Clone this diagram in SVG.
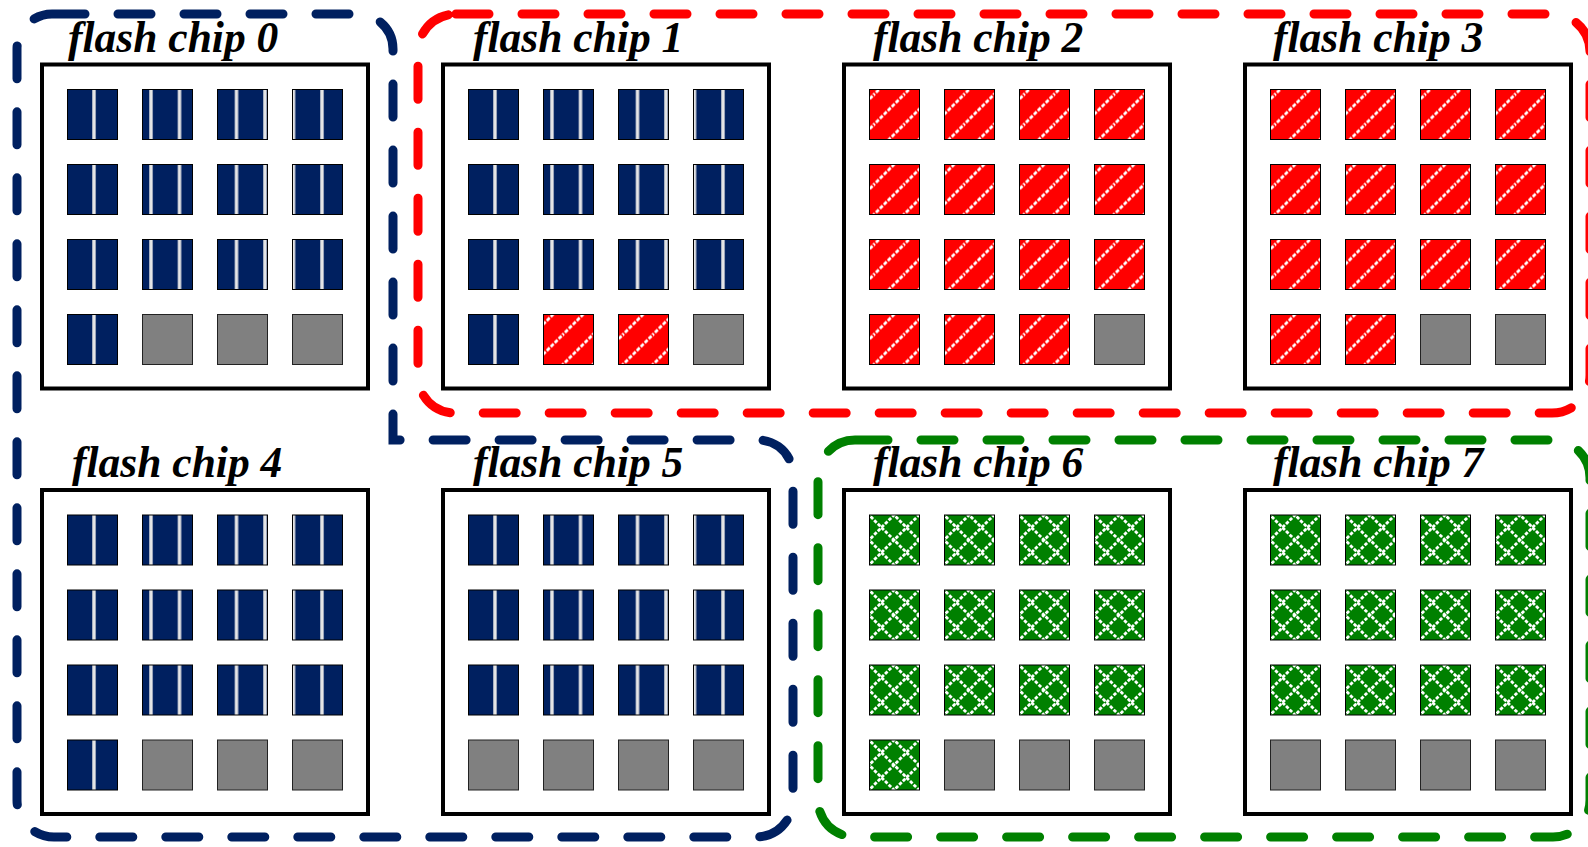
<svg xmlns="http://www.w3.org/2000/svg" width="1588" height="847" viewBox="0 0 1588 847">
<style>
.box{fill:#fff;stroke:#000;stroke-width:4}
.lbl{font-family:"Liberation Serif","Times New Roman",serif;font-weight:bold;font-style:italic;font-size:43.5px;fill:#000}
.n{fill:url(#pn);stroke:#000;stroke-width:1}
.r{fill:url(#pr);stroke:#000;stroke-width:1}
.g{fill:url(#pg);stroke:#000;stroke-width:1}
.e{fill:#808080;stroke:#222;stroke-width:1}
.grp{fill:none;stroke-width:9;stroke-linecap:round;stroke-dasharray:33 33}
</style>
<defs>
<pattern id="pn" patternUnits="userSpaceOnUse" x="0" y="0" width="28.5" height="10">
<rect width="28.5" height="10" fill="#002060"/>
<rect x="21.8" width="3.4" height="10" fill="#e6e6e6"/>
</pattern>
<pattern id="pr" patternUnits="userSpaceOnUse" x="0" y="0" width="30" height="30">
<rect width="30" height="30" fill="#ff0000"/>
<path d="M-2,32 L32,-2 M-5,5 L5,-5 M25,35 L35,25" stroke="#fff" stroke-width="2.8" stroke-dasharray="4 1.6"/>
</pattern>
<pattern id="pg" patternUnits="userSpaceOnUse" x="0" y="0" width="25" height="25">
<rect width="25" height="25" fill="#008000"/>
<path d="M-2,27 L27,-2 M-2,-2 L27,27 M-5,5 L5,-5 M20,30 L30,20 M-5,20 L5,30 M20,-5 L30,5" stroke="#fff" stroke-width="2.8" stroke-dasharray="3.5 1.6"/>
</pattern>
</defs>

<g id="chip0" transform="translate(42,64.5)">
<rect class="box" width="326" height="324"/>
<text class="lbl" x="26" y="-12.5">flash chip 0</text>
<rect class="n" x="25.5" y="25" width="50" height="50"/><rect class="n" x="100.5" y="25" width="50" height="50"/><rect class="n" x="175.5" y="25" width="50" height="50"/><rect class="n" x="250.5" y="25" width="50" height="50"/>
<rect class="n" x="25.5" y="100" width="50" height="50"/><rect class="n" x="100.5" y="100" width="50" height="50"/><rect class="n" x="175.5" y="100" width="50" height="50"/><rect class="n" x="250.5" y="100" width="50" height="50"/>
<rect class="n" x="25.5" y="175" width="50" height="50"/><rect class="n" x="100.5" y="175" width="50" height="50"/><rect class="n" x="175.5" y="175" width="50" height="50"/><rect class="n" x="250.5" y="175" width="50" height="50"/>
<rect class="n" x="25.5" y="250" width="50" height="50"/><rect class="e" x="100.5" y="250" width="50" height="50"/><rect class="e" x="175.5" y="250" width="50" height="50"/><rect class="e" x="250.5" y="250" width="50" height="50"/>
</g>

<g id="chip1" transform="translate(443,64.5)">
<rect class="box" width="326" height="324"/>
<text class="lbl" x="30" y="-12.5">flash chip 1</text>
<rect class="n" x="25.5" y="25" width="50" height="50"/><rect class="n" x="100.5" y="25" width="50" height="50"/><rect class="n" x="175.5" y="25" width="50" height="50"/><rect class="n" x="250.5" y="25" width="50" height="50"/>
<rect class="n" x="25.5" y="100" width="50" height="50"/><rect class="n" x="100.5" y="100" width="50" height="50"/><rect class="n" x="175.5" y="100" width="50" height="50"/><rect class="n" x="250.5" y="100" width="50" height="50"/>
<rect class="n" x="25.5" y="175" width="50" height="50"/><rect class="n" x="100.5" y="175" width="50" height="50"/><rect class="n" x="175.5" y="175" width="50" height="50"/><rect class="n" x="250.5" y="175" width="50" height="50"/>
<rect class="n" x="25.5" y="250" width="50" height="50"/><rect class="r" x="100.5" y="250" width="50" height="50"/><rect class="r" x="175.5" y="250" width="50" height="50"/><rect class="e" x="250.5" y="250" width="50" height="50"/>
</g>

<g id="chip2" transform="translate(844,64.5)">
<rect class="box" width="326" height="324"/>
<text class="lbl" x="29" y="-12.5">flash chip 2</text>
<rect class="r" x="25.5" y="25" width="50" height="50"/><rect class="r" x="100.5" y="25" width="50" height="50"/><rect class="r" x="175.5" y="25" width="50" height="50"/><rect class="r" x="250.5" y="25" width="50" height="50"/>
<rect class="r" x="25.5" y="100" width="50" height="50"/><rect class="r" x="100.5" y="100" width="50" height="50"/><rect class="r" x="175.5" y="100" width="50" height="50"/><rect class="r" x="250.5" y="100" width="50" height="50"/>
<rect class="r" x="25.5" y="175" width="50" height="50"/><rect class="r" x="100.5" y="175" width="50" height="50"/><rect class="r" x="175.5" y="175" width="50" height="50"/><rect class="r" x="250.5" y="175" width="50" height="50"/>
<rect class="r" x="25.5" y="250" width="50" height="50"/><rect class="r" x="100.5" y="250" width="50" height="50"/><rect class="r" x="175.5" y="250" width="50" height="50"/><rect class="e" x="250.5" y="250" width="50" height="50"/>
</g>

<g id="chip3" transform="translate(1245,64.5)">
<rect class="box" width="326" height="324"/>
<text class="lbl" x="28" y="-12.5">flash chip 3</text>
<rect class="r" x="25.5" y="25" width="50" height="50"/><rect class="r" x="100.5" y="25" width="50" height="50"/><rect class="r" x="175.5" y="25" width="50" height="50"/><rect class="r" x="250.5" y="25" width="50" height="50"/>
<rect class="r" x="25.5" y="100" width="50" height="50"/><rect class="r" x="100.5" y="100" width="50" height="50"/><rect class="r" x="175.5" y="100" width="50" height="50"/><rect class="r" x="250.5" y="100" width="50" height="50"/>
<rect class="r" x="25.5" y="175" width="50" height="50"/><rect class="r" x="100.5" y="175" width="50" height="50"/><rect class="r" x="175.5" y="175" width="50" height="50"/><rect class="r" x="250.5" y="175" width="50" height="50"/>
<rect class="r" x="25.5" y="250" width="50" height="50"/><rect class="r" x="100.5" y="250" width="50" height="50"/><rect class="e" x="175.5" y="250" width="50" height="50"/><rect class="e" x="250.5" y="250" width="50" height="50"/>
</g>

<g id="chip4" transform="translate(42,490)">
<rect class="box" width="326" height="324"/>
<text class="lbl" x="30" y="-13">flash chip 4</text>
<rect class="n" x="25.5" y="25" width="50" height="50"/><rect class="n" x="100.5" y="25" width="50" height="50"/><rect class="n" x="175.5" y="25" width="50" height="50"/><rect class="n" x="250.5" y="25" width="50" height="50"/>
<rect class="n" x="25.5" y="100" width="50" height="50"/><rect class="n" x="100.5" y="100" width="50" height="50"/><rect class="n" x="175.5" y="100" width="50" height="50"/><rect class="n" x="250.5" y="100" width="50" height="50"/>
<rect class="n" x="25.5" y="175" width="50" height="50"/><rect class="n" x="100.5" y="175" width="50" height="50"/><rect class="n" x="175.5" y="175" width="50" height="50"/><rect class="n" x="250.5" y="175" width="50" height="50"/>
<rect class="n" x="25.5" y="250" width="50" height="50"/><rect class="e" x="100.5" y="250" width="50" height="50"/><rect class="e" x="175.5" y="250" width="50" height="50"/><rect class="e" x="250.5" y="250" width="50" height="50"/>
</g>

<g id="chip5" transform="translate(443,490)">
<rect class="box" width="326" height="324"/>
<text class="lbl" x="30" y="-13">flash chip 5</text>
<rect class="n" x="25.5" y="25" width="50" height="50"/><rect class="n" x="100.5" y="25" width="50" height="50"/><rect class="n" x="175.5" y="25" width="50" height="50"/><rect class="n" x="250.5" y="25" width="50" height="50"/>
<rect class="n" x="25.5" y="100" width="50" height="50"/><rect class="n" x="100.5" y="100" width="50" height="50"/><rect class="n" x="175.5" y="100" width="50" height="50"/><rect class="n" x="250.5" y="100" width="50" height="50"/>
<rect class="n" x="25.5" y="175" width="50" height="50"/><rect class="n" x="100.5" y="175" width="50" height="50"/><rect class="n" x="175.5" y="175" width="50" height="50"/><rect class="n" x="250.5" y="175" width="50" height="50"/>
<rect class="e" x="25.5" y="250" width="50" height="50"/><rect class="e" x="100.5" y="250" width="50" height="50"/><rect class="e" x="175.5" y="250" width="50" height="50"/><rect class="e" x="250.5" y="250" width="50" height="50"/>
</g>

<g id="chip6" transform="translate(844,490)">
<rect class="box" width="326" height="324"/>
<text class="lbl" x="29" y="-13">flash chip 6</text>
<rect class="g" x="25.5" y="25" width="50" height="50"/><rect class="g" x="100.5" y="25" width="50" height="50"/><rect class="g" x="175.5" y="25" width="50" height="50"/><rect class="g" x="250.5" y="25" width="50" height="50"/>
<rect class="g" x="25.5" y="100" width="50" height="50"/><rect class="g" x="100.5" y="100" width="50" height="50"/><rect class="g" x="175.5" y="100" width="50" height="50"/><rect class="g" x="250.5" y="100" width="50" height="50"/>
<rect class="g" x="25.5" y="175" width="50" height="50"/><rect class="g" x="100.5" y="175" width="50" height="50"/><rect class="g" x="175.5" y="175" width="50" height="50"/><rect class="g" x="250.5" y="175" width="50" height="50"/>
<rect class="g" x="25.5" y="250" width="50" height="50"/><rect class="e" x="100.5" y="250" width="50" height="50"/><rect class="e" x="175.5" y="250" width="50" height="50"/><rect class="e" x="250.5" y="250" width="50" height="50"/>
</g>

<g id="chip7" transform="translate(1245,490)">
<rect class="box" width="326" height="324"/>
<text class="lbl" x="28" y="-13">flash chip 7</text>
<rect class="g" x="25.5" y="25" width="50" height="50"/><rect class="g" x="100.5" y="25" width="50" height="50"/><rect class="g" x="175.5" y="25" width="50" height="50"/><rect class="g" x="250.5" y="25" width="50" height="50"/>
<rect class="g" x="25.5" y="100" width="50" height="50"/><rect class="g" x="100.5" y="100" width="50" height="50"/><rect class="g" x="175.5" y="100" width="50" height="50"/><rect class="g" x="250.5" y="100" width="50" height="50"/>
<rect class="g" x="25.5" y="175" width="50" height="50"/><rect class="g" x="100.5" y="175" width="50" height="50"/><rect class="g" x="175.5" y="175" width="50" height="50"/><rect class="g" x="250.5" y="175" width="50" height="50"/>
<rect class="e" x="25.5" y="250" width="50" height="50"/><rect class="e" x="100.5" y="250" width="50" height="50"/><rect class="e" x="175.5" y="250" width="50" height="50"/><rect class="e" x="250.5" y="250" width="50" height="50"/>
</g>

<g id="groups">
<path id="grp-navy" class="grp" stroke="#002060" d="M52,14 H358 A35,35 0 0 1 393,49 V440 H758 A35,35 0 0 1 793,475 V800 A37,37 0 0 1 756,837 H54 A37,37 0 0 1 17,800 V49 A35,35 0 0 1 52,14 Z"/>
<path id="grp-red" class="grp" stroke="#ff0000" d="M456,14 H1552 A38,38 0 0 1 1590,52 V375 A38,38 0 0 1 1552,413 H455 A37,37 0 0 1 418,376 V52 A38,38 0 0 1 456,14 Z"/>
<path id="grp-green" class="grp" stroke="#008000" d="M855,440 H1552 A38,38 0 0 1 1590,478 V800 A37,37 0 0 1 1553,837 H855 A37,37 0 0 1 818,800 V477 A37,37 0 0 1 855,440 Z"/>
</g>
</svg>
